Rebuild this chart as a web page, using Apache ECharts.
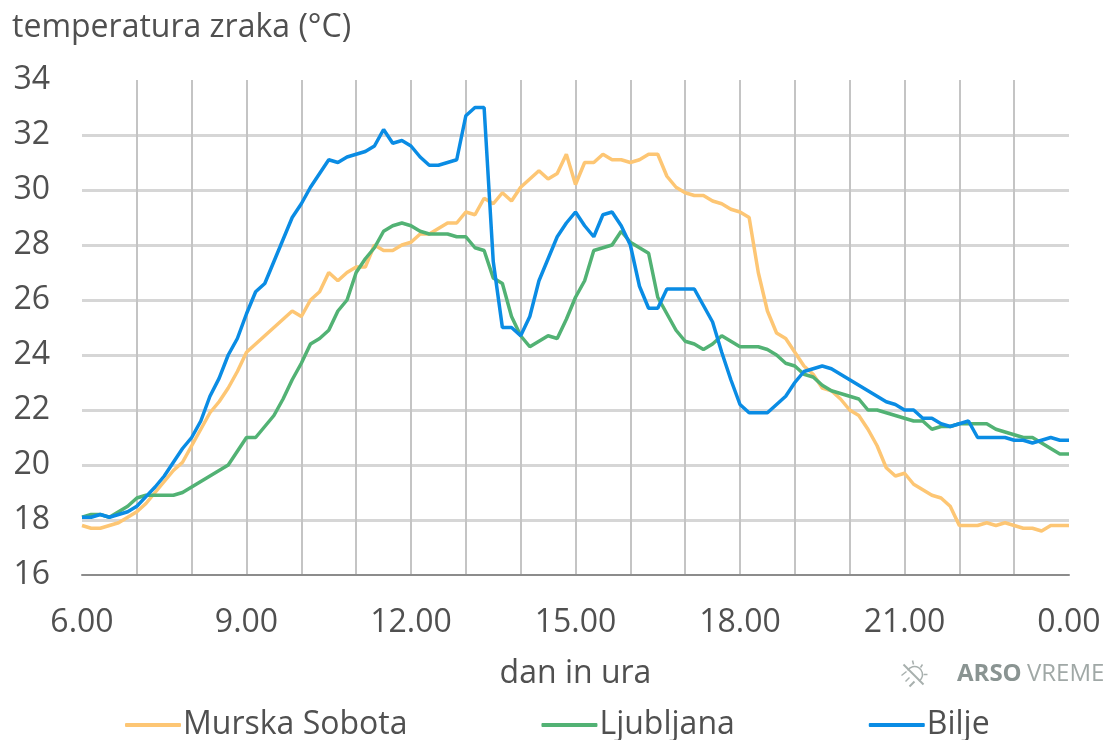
<!DOCTYPE html>
<html>
<head>
<meta charset="utf-8">
<title>temperatura zraka</title>
<script src="https://cdn.jsdelivr.net/npm/echarts@6/dist/echarts.min.js"></script>
<style>
  html, body { margin: 0; padding: 0; background: #fff; }
  #chart { width: 1110px; height: 740px; }
</style>
</head>
<body>
<div id="chart"></div>
<script>
  // 10 minute readings, 6.00 -> 0.00 (109 points)
  var muraValues = [
    17.8, 17.7, 17.7, 17.8, 17.9, 18.1, 18.3, 18.6, 19.0, 19.4, 19.8, 20.1, 20.7, 21.3, 21.9, 22.3, 22.8, 23.4,
    24.1, 24.4, 24.7, 25.0, 25.3, 25.6, 25.4, 26.0, 26.3, 27.0, 26.7, 27.0, 27.2, 27.2, 28.0, 27.8, 27.8, 28.0,
    28.1, 28.4, 28.4, 28.6, 28.8, 28.8, 29.2, 29.1, 29.7, 29.5, 29.9, 29.6, 30.1, 30.4, 30.7, 30.4, 30.6, 31.3,
    30.2, 31.0, 31.0, 31.3, 31.1, 31.1, 31.0, 31.1, 31.3, 31.3, 30.5, 30.1, 29.9, 29.8, 29.8, 29.6, 29.5, 29.3,
    29.2, 29.0, 27.0, 25.6, 24.8, 24.6, 24.1, 23.6, 23.3, 22.8, 22.7, 22.4, 22.0, 21.8, 21.3, 20.7, 19.9, 19.6,
    19.7, 19.3, 19.1, 18.9, 18.8, 18.5, 17.8, 17.8, 17.8, 17.9, 17.8, 17.9, 17.8, 17.7, 17.7, 17.6, 17.8, 17.8, 17.8
  ]
  var ljubljanaValues = [
    18.1, 18.2, 18.2, 18.1, 18.3, 18.5, 18.8, 18.9, 18.9, 18.9, 18.9, 19.0, 19.2, 19.4, 19.6, 19.8, 20.0, 20.5,
    21.0, 21.0, 21.4, 21.8, 22.4, 23.1, 23.7, 24.4, 24.6, 24.9, 25.6, 26.0, 27.0, 27.5, 27.9, 28.5, 28.7, 28.8,
    28.7, 28.5, 28.4, 28.4, 28.4, 28.3, 28.3, 27.9, 27.8, 26.8, 26.6, 25.4, 24.7, 24.3, 24.5, 24.7, 24.6, 25.3,
    26.1, 26.7, 27.8, 27.9, 28.0, 28.5, 28.1, 27.9, 27.7, 26.1, 25.5, 24.9, 24.5, 24.4, 24.2, 24.4, 24.7, 24.5,
    24.3, 24.3, 24.3, 24.2, 24.0, 23.7, 23.6, 23.3, 23.2, 22.9, 22.7, 22.6, 22.5, 22.4, 22.0, 22.0, 21.9, 21.8,
    21.7, 21.6, 21.6, 21.3, 21.4, 21.4, 21.5, 21.5, 21.5, 21.5, 21.3, 21.2, 21.1, 21.0, 21.0, 20.8, 20.6, 20.4, 20.4
  ]
  var biljeValues = [
    18.1, 18.1, 18.2, 18.1, 18.2, 18.3, 18.5, 18.85, 19.2, 19.6, 20.1, 20.6, 21.0, 21.6, 22.5, 23.15, 24.0, 24.6,
    25.5, 26.3, 26.6, 27.4, 28.2, 29.0, 29.5, 30.1, 30.6, 31.1, 31.0, 31.2, 31.3, 31.4, 31.6, 32.2, 31.7, 31.8,
    31.6, 31.2, 30.9, 30.9, 31.0, 31.1, 32.7, 33.0, 33.0, 27.4, 25.0, 25.0, 24.7, 25.4, 26.7, 27.5, 28.3, 28.8,
    29.2, 28.7, 28.3, 29.1, 29.2, 28.7, 28.0, 26.5, 25.7, 25.7, 26.4, 26.4, 26.4, 26.4, 25.8, 25.2, 24.1, 23.1,
    22.2, 21.9, 21.9, 21.9, 22.2, 22.5, 23.0, 23.4, 23.5, 23.6, 23.5, 23.3, 23.1, 22.9, 22.7, 22.5, 22.3, 22.2,
    22.0, 22.0, 21.7, 21.7, 21.5, 21.4, 21.5, 21.6, 21.0, 21.0, 21.0, 21.0, 20.9, 20.9, 20.8, 20.9, 21.0, 20.9, 20.9
  ]
  var hourLabels = ['6.00', '9.00', '12.00', '15.00', '18.00', '21.00', '0.00']

  var categories = []
  for (var i = 0; i < muraValues.length; i++) {
    categories.push(i % 18 === 0 ? hourLabels[i / 18] : String(i))
  }

  var textColor = '#505050'
  var fontName = '"Open Sans"'
  var iconColor = '#a8b0ae'

  var chart = echarts.init(document.getElementById('chart'))
  chart.setOption({
    animation: false,
    textStyle: { fontFamily: fontName },
    title: {
      text: 'temperatura zraka (°C)',
      left: 12,
      top: 12,
      padding: 0,
      textStyle: { color: textColor, fontSize: 32, fontWeight: 'normal', fontFamily: fontName }
    },
    legend: {
      left: 125,
      top: 709,
      padding: 0,
      itemWidth: 56,
      itemHeight: 4,
      itemGap: 134,
      icon: 'roundRect',
      textStyle: { color: textColor, fontSize: 32, padding: [0, 0, 0, -3] },
      data: ['Murska Sobota', 'Ljubljana', 'Bilje']
    },
    grid: { left: 82, right: 41, top: 80, bottom: 165 },
    xAxis: {
      type: 'category',
      boundaryGap: false,
      data: categories,
      name: 'dan in ura',
      nameLocation: 'middle',
      nameGap: 83,
      nameTextStyle: { color: textColor, fontSize: 32 },
      axisLine: { lineStyle: { color: '#8c8c8c', width: 2 } },
      axisTick: { show: false },
      axisLabel: {
        color: textColor,
        fontSize: 32,
        margin: 32,
        interval: function (index) { return index % 18 === 0 }
      },
      splitLine: {
        show: true,
        showMinLine: false,
        showMaxLine: false,
        interval: function (index) { return index % 6 === 0 },
        lineStyle: { color: '#c4c4c4', width: 2 }
      }
    },
    yAxis: {
      type: 'value',
      min: 16,
      max: 34,
      interval: 2,
      axisLine: { show: false },
      axisTick: { show: false },
      axisLabel: { color: textColor, fontSize: 32, margin: 32 },
      splitLine: {
        show: true,
        showMinLine: false,
        showMaxLine: false,
        lineStyle: { color: '#d6d6d6', width: 3 }
      }
    },
    series: [
      { name: 'Murska Sobota', type: 'line', data: muraValues, symbol: 'none', lineStyle: { color: '#fdc674', width: 3.5 }, itemStyle: { color: '#fdc674' } },
      { name: 'Ljubljana', type: 'line', data: ljubljanaValues, symbol: 'none', lineStyle: { color: '#52b274', width: 3.5 }, itemStyle: { color: '#52b274' } },
      { name: 'Bilje', type: 'line', data: biljeValues, symbol: 'none', lineStyle: { color: '#0a8ce4', width: 3.5 }, itemStyle: { color: '#0a8ce4' } }
    ],
    graphic: [
      // ARSO VREME znak
      {
        type: 'group',
        left: 899,
        top: 658,
        children: [
          { type: 'arc', shape: { cx: 14, cy: 14, r: 8, startAngle: -2.6, endAngle: 1.0 }, style: { fill: 'none', stroke: iconColor, lineWidth: 1.5 } },
          { type: 'line', shape: { x1: 3, y1: 4, x2: 23, y2: 24 }, style: { stroke: iconColor, lineWidth: 2 } },
          { type: 'line', shape: { x1: 12, y1: 0, x2: 13, y2: 4 }, style: { stroke: iconColor, lineWidth: 1.5 } },
          { type: 'line', shape: { x1: 22, y1: 4, x2: 20, y2: 7 }, style: { stroke: iconColor, lineWidth: 1.5 } },
          { type: 'line', shape: { x1: 27, y1: 14, x2: 23, y2: 14 }, style: { stroke: iconColor, lineWidth: 1.5 } },
          { type: 'line', shape: { x1: 1, y1: 15, x2: 6, y2: 11 }, style: { stroke: iconColor, lineWidth: 1.5 } },
          { type: 'line', shape: { x1: 5, y1: 21, x2: 9, y2: 17 }, style: { stroke: iconColor, lineWidth: 1.5 } },
          { type: 'line', shape: { x1: 9, y1: 26, x2: 14, y2: 21 }, style: { stroke: iconColor, lineWidth: 2 } }
        ]
      },
      {
        type: 'text',
        left: 957,
        top: 662,
        style: { text: 'ARSO', fill: '#8a9492', font: 'bold 24px "Open Sans"' }
      },
      {
        type: 'text',
        left: 1027,
        top: 662,
        style: { text: 'VREME', fill: '#a0a8a6', font: '24px "Open Sans"' }
      }
    ]
  })
</script>
</body>
</html>
